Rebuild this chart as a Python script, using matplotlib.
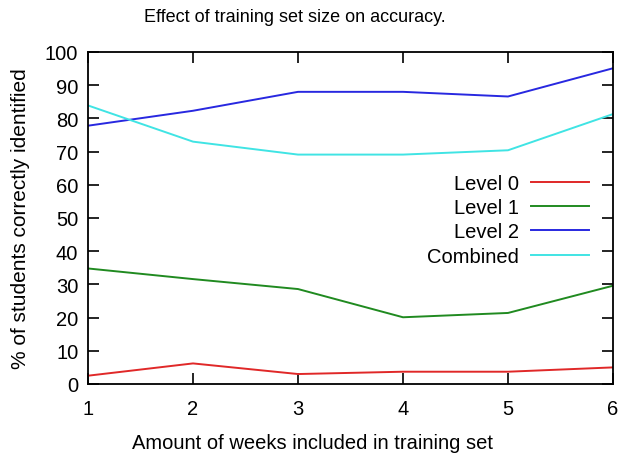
import matplotlib
matplotlib.use("Agg")
import matplotlib.pyplot as plt

plt.rcParams['font.family'] = ['Liberation Sans', 'DejaVu Sans']

weeks = [1, 2, 3, 4, 5, 6]
level0 = [2.5, 6.2, 3.0, 3.7, 3.7, 5.0]
level1 = [34.8, 31.6, 28.6, 20.1, 21.4, 29.6]
level2 = [77.8, 82.3, 88.0, 88.0, 86.6, 95.1]
combined = [83.9, 73.0, 69.1, 69.1, 70.4, 81.3]
labels = ["Level 0", "Level 1", "Level 2", "Combined"]
colors = ["#e02828", "#208a20", "#2828e0", "#40e4e4"]

fig = plt.figure(figsize=(6.21, 4.56), dpi=100)
ax = fig.add_axes([88/621, 1 - 385/456, 525/621, 332/456])

for ys, lab, c in zip([level0, level1, level2, combined], labels, colors):
    ax.plot(weeks, ys, color=c, lw=1.4, label=lab)

ax.set_xlim(1, 6)
ax.set_ylim(0, 100)
ax.set_xticks(weeks)
ax.set_yticks(range(0, 101, 10))
ax.tick_params(direction='in', top=True, right=True, length=8, width=1.2, labelsize=14.5)
ax.tick_params(axis='x', pad=11)
ax.tick_params(axis='y', pad=7)
for s in ax.spines.values():
    s.set_linewidth(1.3)

fig.text(295/621, 1 - 17/456, "Effect of training set size on accuracy.",
         fontsize=13, ha='center', va='center')
fig.text(313/621, 1 - 444/456, "Amount of weeks included in training set",
         fontsize=14.5, ha='center', va='center')
ax.set_ylabel("% of students correctly identified", fontsize=15, labelpad=11)

leg = ax.legend(loc='upper right', bbox_to_anchor=(0.954, 0.633), frameon=False,
                markerfirst=False, fontsize=14.5, handlelength=2.85, handletextpad=0.6,
                labelspacing=0.26, borderpad=0, borderaxespad=0)
for t in leg.get_texts():
    t.set_ha('right')

fig.savefig("out.png", dpi=100)
